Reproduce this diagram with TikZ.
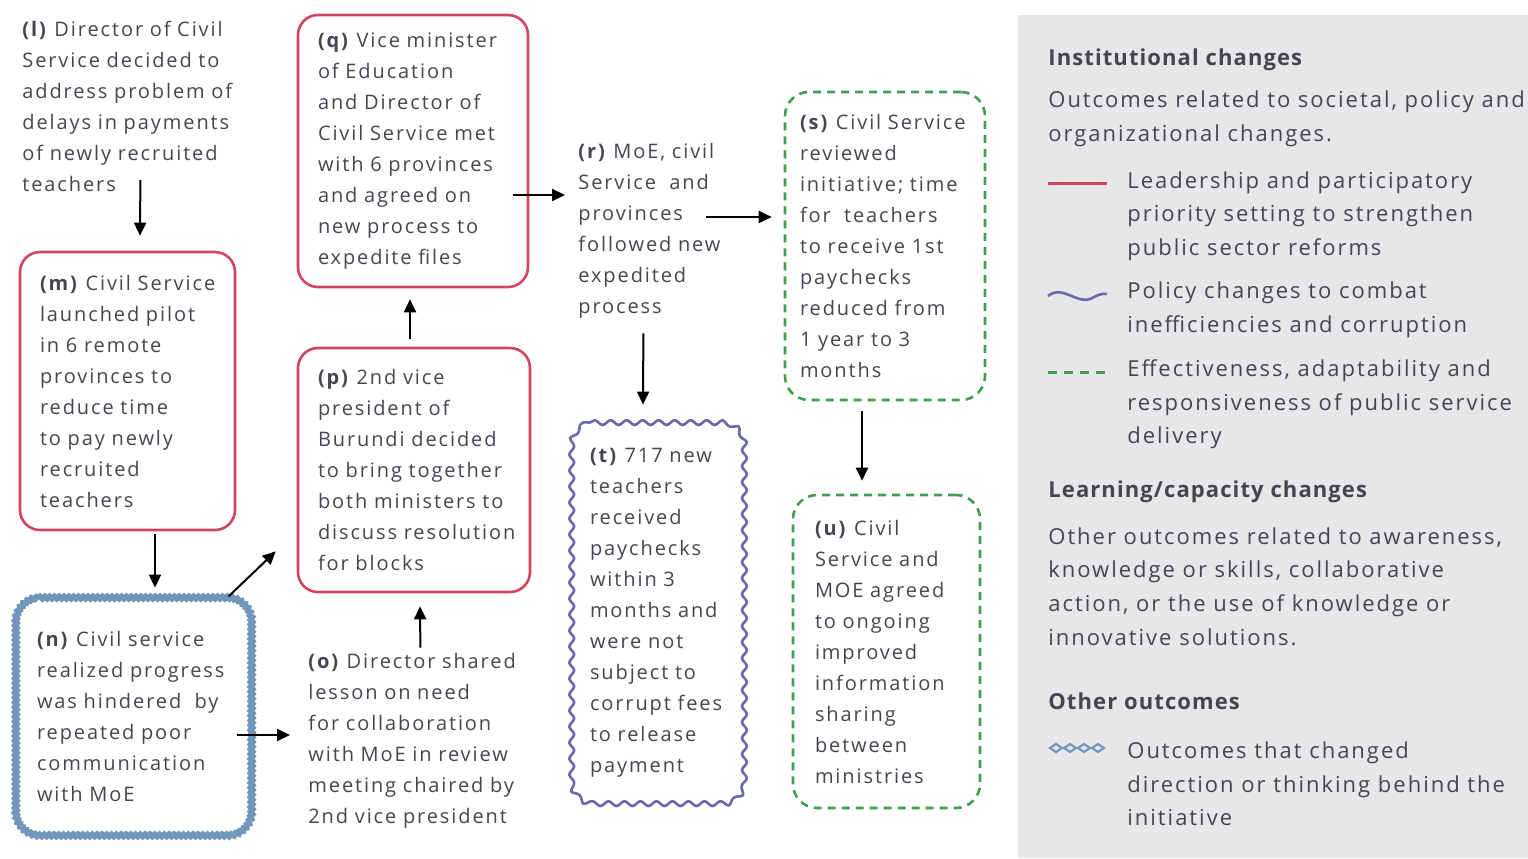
\documentclass[tikz,border=0pt]{standalone}
\usepackage{fontspec}
\setmainfont{Open Sans}
\usetikzlibrary{arrows.meta,decorations.pathmorphing,calc}
\definecolor{txt}{HTML}{45454F}
\definecolor{redb}{HTML}{D2455F}
\definecolor{blueb}{HTML}{7297BA}
\definecolor{purb}{HTML}{6B68AC}
\definecolor{greenb}{HTML}{3E9F4C}
\definecolor{panel}{HTML}{E7E7E9}
\newfontfamily\bodyfont[LetterSpace=9.5]{Open Sans}
\newfontfamily\legfont[LetterSpace=9]{Open Sans}
\newfontfamily\headfont[LetterSpace=5]{Open Sans}
% frame with round corners drawn around a node, built from plain curves instead of
% the rounded corners option so that wavy decorations stay clean:
% #1 style, #2 node, #3 corner radius
\newcommand\softframe[3]{%
  \draw[#1] ([xshift=#3]#2.north west) -- ([xshift=-#3]#2.north east)
    .. controls ([xshift=-0.45*#3]#2.north east) and ([yshift=-0.45*#3]#2.north east) .. ([yshift=-#3]#2.north east)
    -- ([yshift=#3]#2.south east)
    .. controls ([yshift=0.45*#3]#2.south east) and ([xshift=-0.45*#3]#2.south east) .. ([xshift=-#3]#2.south east)
    -- ([xshift=#3]#2.south west)
    .. controls ([xshift=0.45*#3]#2.south west) and ([yshift=0.45*#3]#2.south west) .. ([yshift=#3]#2.south west)
    -- ([yshift=-#3]#2.north west)
    .. controls ([yshift=-0.45*#3]#2.north west) and ([xshift=0.45*#3]#2.north west) .. ([xshift=#3]#2.north west);}
\tikzset{
  body/.style={font=\bodyfont\fontsize{10}{15.5}\selectfont, text=txt, align=left},
  legtext/.style={font=\legfont\fontsize{11}{16.8}\selectfont, text=txt, align=left, inner sep=0pt, anchor=west},
  leghead/.style={legtext, font=\headfont\bfseries\fontsize{11}{16.8}\selectfont},
  plain/.style={body, inner sep=0pt, anchor=west},
  leadbox/.style={body, draw=redb, line width=1.3pt, rounded corners=10pt, inner ysep=0pt},
  effbox/.style={body, draw=greenb, line width=1.3pt, rounded corners=12pt, inner ysep=0pt,
    dash pattern=on 4pt off 3pt},
  bare/.style={body, inner ysep=0pt},
  policyline/.style={draw=purb, line width=1.3pt, decorate,
    decoration={snake, amplitude=1.2pt, segment length=8pt}},
  shiftline/.style={draw=blueb, line width=3pt, decorate,
    decoration={snake, amplitude=0.5pt, segment length=2.4pt}},
  arr/.style={draw=black, line width=1pt, -{Triangle[length=6.5pt,width=6pt]}}
}
\begin{document}
\begin{tikzpicture}[x=0.5pt,y=-0.5pt]
\useasboundingbox (0,0) rectangle (1528,858);

% plain statements
\node[plain, text width=118pt] (l) at (22,106.5)
  {\textbf{(l)} Director of Civil\\Service decided to\\address problem of\\delays in payments\\of newly recruited\\teachers};
\node[plain, text width=118pt] (o) at (308,740.5)
  {\textbf{(o)} Director shared\\lesson on need\\for collaboration\\with MoE in review\\meeting chaired by\\2nd vice president};
\node[plain, text width=80pt] (r) at (578,230.5)
  {\textbf{(r)} MoE, civil\\Service\ \ and\\provinces\\followed new\\expedited\\process};

% outcome boxes
\node[leadbox, text width=87.5pt, inner xsep=10pt, minimum height=139pt] (m) at (127.5,391)
  {\textbf{(m)} Civil Service\\launched pilot\\in 6 remote\\provinces to\\reduce time\\to pay newly\\recruited\\teachers};
\node[bare, text width=95.5pt, inner xsep=11pt, minimum height=118.5pt] (n) at (132.5,716.5)
  {\textbf{(n)} Civil service\\realized progress\\was hindered\ \ by\\repeated poor\\communication\\with MoE};
\softframe{shiftline}{n}{12pt}
\node[leadbox, text width=96pt, inner xsep=10pt, minimum height=122pt] (p) at (414,470)
  {\textbf{(p)} 2nd vice\\president of\\Burundi decided\\to bring together\\both ministers to\\discuss resolution\\for blocks};
\node[leadbox, text width=95pt, inner xsep=10pt, minimum height=136pt] (q) at (413,151)
  {\textbf{(q)} Vice minister\\of Education\\and Director of\\Civil Service met\\with 6 provinces\\and agreed on\\new process to\\expedite files};
\node[effbox, text width=85pt, inner xsep=7.5pt, minimum height=154pt] (s) at (885,246)
  {\textbf{(s)} Civil Service\\reviewed\\initiative; time\\for\ \ teachers\\to receive 1st\\paychecks\\reduced from\\1 year to 3\\months};
\node[bare, text width=64pt, inner xsep=11pt, minimum height=190pt] (t) at (654,613)
  {\textbf{(t)} 717~new\\teachers\\received\\paychecks\\within~3\\months~and\\were~not\\subject~to\\corrupt~fees\\to~release\\payment};
\softframe{policyline}{t}{11pt}
\node[effbox, text width=71.5pt, inner xsep=11pt, minimum height=156.5pt] (u) at (886.5,651.5)
  {\textbf{(u)} Civil\\Service and\\MOE agreed\\to ongoing\\improved\\information\\sharing\\between\\ministries};

% connectors
\draw[arr] ([yshift=6pt]l.south) -- ([xshift=6.25pt,yshift=7.5pt]m.north);
\draw[arr] ([xshift=13.75pt,yshift=-1.5pt]m.south) -- ([xshift=11.25pt,yshift=5pt]n.north);
\draw[arr] ([xshift=-6.5pt,yshift=-9.25pt]n.east) -- ([xshift=-9pt,yshift=2.75pt]o.west);
\draw[arr] ([xshift=-11pt,yshift=0.5pt]n.north east) -- ([xshift=-10.5pt,yshift=21pt]p.south west);
\draw[arr] ([xshift=-3pt,yshift=2.5pt]o.north) -- ([xshift=3pt,yshift=-6.5pt]p.south);
\draw[arr] ([xshift=-2pt,yshift=4pt]p.north) -- ([xshift=-1.5pt,yshift=-5.5pt]q.south);
\draw[arr] ([xshift=-8pt,yshift=-22pt]q.east) -- ([xshift=-6.5pt,yshift=17.75pt]r.west);
\draw[arr] ([xshift=-16.5pt,yshift=6.75pt]r.east) -- ([xshift=-6pt,yshift=14.5pt]s.west);
\draw[arr] ([xshift=-7.5pt,yshift=-7.5pt]r.south) -- ([xshift=-5.5pt,yshift=9pt]t.north);
\draw[arr] ([xshift=-11.5pt,yshift=-5pt]s.south) -- ([xshift=-12.25pt,yshift=6.5pt]u.north);

% legend panel
\fill[panel] (1018,15) rectangle (1528,858);
\node[leghead] (h1) at (1048,60) {Institutional changes};
\node[legtext] (d1) at (1048,119) {Outcomes related to societal, policy and\\organizational changes.};
\draw[redb, line width=1.5pt] (1048,183) -- (1107,183);
\node[legtext] (k1) at (1127,216) {Leadership and participatory\\priority setting to strengthen\\public sector reforms};
\draw[purb, line width=1.3pt] (1048,296) .. controls (1063,284) and (1078,306) .. (1092,298) .. controls (1098,295) and (1102,293) .. (1107,294);
\node[legtext] (k2) at (1127,309.5) {Policy changes to combat\\inefficiencies and corruption};
\draw[greenb, line width=1.5pt, dash pattern=on 4.5pt off 3.5pt] (1048,372) -- (1107,372);
\node[legtext] (k3) at (1127,404.5) {Effectiveness, adaptability and\\responsiveness of public service\\delivery};
\node[leghead] (h2) at (1048,492) {Learning/capacity changes};
\node[legtext] (d2) at (1048,586.5) {Other outcomes related to awareness,\\knowledge or skills, collaborative\\action, or the use of knowledge or\\innovative solutions.};
\node[leghead] (h3) at (1048,701) {Other outcomes};
\foreach \cx in {1056,1070,1084,1098}
  \draw[blueb, line width=1.1pt] (\cx-6,748) -- (\cx,744) -- (\cx+6,748) -- (\cx,752) -- cycle;
\node[legtext] (k4) at (1127,784) {Outcomes that changed\\direction or thinking behind the\\initiative};
\end{tikzpicture}
\end{document}
